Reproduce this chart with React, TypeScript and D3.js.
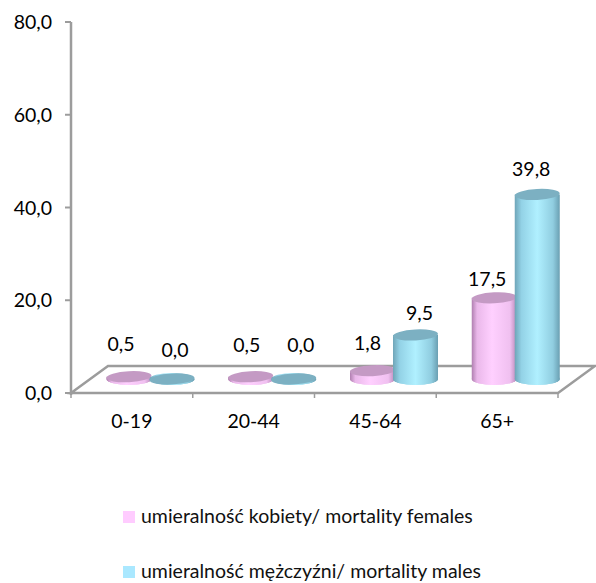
import React from "react";
import * as d3 from "d3";

const categories = ["0-19", "20-44", "45-64", "65+"];
const females = [0.5, 0.5, 1.8, 17.5];
const males = [0.0, 0.0, 9.5, 39.8];
const femaleLabels = ["0,5", "0,5", "1,8", "17,5"];
const maleLabels = ["0,0", "0,0", "9,5", "39,8"];
const yTicks = [0, 20, 40, 60, 80];
const legendLabels = ["umieralność kobiety/ mortality females", "umieralność mężczyźni/ mortality males"];

const femaleLabelNudge = [[-8, -33], [-4, -32], [-5, -28], [-7, -19]];
const maleLabelNudge = [[3, -29], [7, -34], [4, -22], [-6, -25]];

const W = 596, H = 583;
const FONT = "Lato, Carlito, Calibri, sans-serif";
const FS = 19.5;
const AXIS = "#9c9c9c";

const y = d3.scaleLinear().domain([0, 80]).range([393, 22]);
const x = d3.scaleBand<string>().domain(categories).range([71, 558]);
const inner = d3.scalePoint<string>().domain(["f", "m"]).range([58, 101]);
const BASE_LIFT = 14;
const floor = d3.line()([[71, 393], [108, 366], [595, 366], [558, 393]]) + "Z";

function Cyl({ cx, v, grad, top, rx }: { cx: number; v: number; grad: string; top: string; rx: number }) {
  const ry = 6;
  const base = y(0) - BASE_LIFT;
  const t = base - (y(0) - y(v));
  const body = `M${cx - rx},${t} L${cx - rx},${base} A${rx},${ry} 0 0 0 ${cx + rx},${base} L${cx + rx},${t} Z`;
  return (
    <g>
      <path d={body} fill={`url(#${grad})`} />
      <ellipse cx={cx} cy={base} rx={rx} ry={ry} fill={`url(#${grad})`} />
      <ellipse cx={cx} cy={t} rx={rx} ry={ry - 0.5} fill={top} transform={`rotate(-3 ${cx} ${t})`} />
    </g>
  );
}

export default function App() {
  const series = [
    { key: "f", vals: females, labs: femaleLabels, nudge: femaleLabelNudge, grad: "gf", top: "#c49ac4", rx: 22.5 },
    { key: "m", vals: males, labs: maleLabels, nudge: maleLabelNudge, grad: "gm", top: "#7cb0c2", rx: 22.5 },
  ];
  return (
    <svg width={W} height={H} viewBox={`0 0 ${W} ${H}`} style={{ position: "absolute", left: 0, top: 0, display: "block", background: "#fff" }}>
      <defs>
        <linearGradient id="gf" x1="0" x2="1" y1="0" y2="0">
          <stop offset="0" stopColor="#b07fb0" />
          <stop offset="0.12" stopColor="#eab8ea" />
          <stop offset="0.45" stopColor="#ffd0ff" />
          <stop offset="0.85" stopColor="#f0c0f0" />
          <stop offset="1" stopColor="#b888b8" />
        </linearGradient>
        <linearGradient id="gm" x1="0" x2="1" y1="0" y2="0">
          <stop offset="0" stopColor="#6fa5b8" />
          <stop offset="0.15" stopColor="#93d2e6" />
          <stop offset="0.5" stopColor="#b0f0ff" />
          <stop offset="0.85" stopColor="#90cde0" />
          <stop offset="1" stopColor="#6a9fb2" />
        </linearGradient>
      </defs>

      <path d={floor} fill="none" stroke={AXIS} strokeWidth={2.5} />
      <line x1={71} x2={71} y1={y(80)} y2={395} stroke={AXIS} strokeWidth={2.5} />
      {yTicks.map((t) => (
        <g key={t}>
          <line x1={65} x2={71} y1={y(t)} y2={y(t)} stroke={AXIS} strokeWidth={2} />
          <text x={52} y={y(t) + 7} fontSize={FS} fontFamily={FONT} textAnchor="end" fill="#000">
            {t.toFixed(1).replace(".", ",")}
          </text>
        </g>
      ))}
      {[...categories.map((c) => x(c)!), 558].map((p, i) => (
        <line key={i} x1={p} x2={p} y1={393} y2={398} stroke={AXIS} strokeWidth={1.5} />
      ))}
      {categories.map((c) => (
        <text key={c} x={x(c)! + x.bandwidth() / 2} y={428} fontSize={FS} fontFamily={FONT} textAnchor="middle" fill="#000">
          {c}
        </text>
      ))}

      {categories.map((c, i) =>
        series.map((s) => (
          <Cyl key={c + s.key} cx={x(c)! + inner(s.key)!} v={s.vals[i]} grad={s.grad} top={s.top} rx={s.rx} />
        ))
      )}
      {categories.map((c, i) =>
        series.map((s) => (
          <text
            key={c + s.key}
            x={x(c)! + inner(s.key)! + s.nudge[i][0]}
            y={y(s.vals[i]) - BASE_LIFT + s.nudge[i][1] + 7}
            fontSize={FS}
            fontFamily={FONT}
            textAnchor="middle"
            fill="#000"
          >
            {s.labs[i]}
          </text>
        ))
      )}

      {legendLabels.map((l, i) => (
        <g key={l}>
          <rect x={123} y={511 + i * 55} width={12} height={12} fill={i === 0 ? "#ffccff" : "#aae8ff"} />
          <text x={141} y={523 + i * 55} fontSize={FS} fontFamily={FONT} fill="#111">
            {l}
          </text>
        </g>
      ))}
    </svg>
  );
}
